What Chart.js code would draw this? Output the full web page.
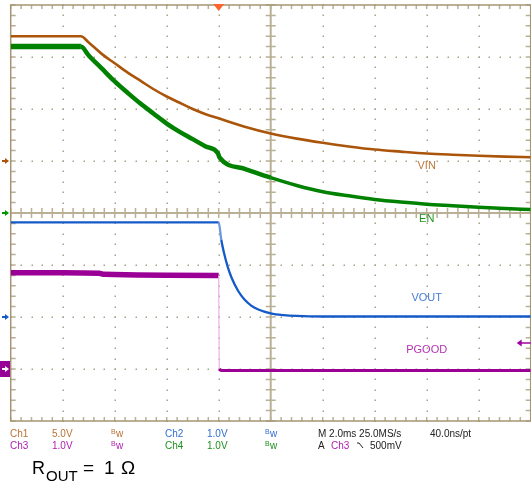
<!DOCTYPE html>
<html>
<head>
<meta charset="utf-8">
<script src="https://cdn.jsdelivr.net/npm/chart.js@4"></script>
<style>
  body { margin: 0; background: #fff; }
  canvas { display: block; }
</style>
</head>
<body>
<canvas id="scope" width="531" height="484"></canvas>
<script>
// time in ms relative to the trigger (2 ms/div), values in volts
const vinTime  = [-8, -5.3, -5.0, -4.5, -4.0, -3.5, -3.0, -2.5, -2.0, -1.5, -1.0, -0.5, 0, 1, 2, 3, 4, 5, 6, 7, 8, 9, 10, 11, 12];
const vinVolts = [12.0, 12.0, 11.4, 10.3, 9.4, 8.5, 7.7, 6.9, 6.2, 5.6, 5.0, 4.5, 4.1, 3.3, 2.65, 2.15, 1.75, 1.4, 1.1, 0.9, 0.72, 0.6, 0.5, 0.42, 0.36];

const enTime  = [-8, -5.3, -5.0, -4.5, -4.0, -3.5, -3.0, -2.5, -2.0, -1.5, -1.0, -0.5, -0.03, 0.03, 1, 2, 3, 4, 5, 6, 7, 8, 9, 10, 11, 12];
const enVolts = [3.2, 3.2, 3.03, 2.78, 2.53, 2.31, 2.1, 1.91, 1.72, 1.56, 1.42, 1.28, 1.15, 1.07, 0.85, 0.68, 0.53, 0.41, 0.33, 0.26, 0.21, 0.17, 0.14, 0.11, 0.085, 0.065];

const voutTime  = [-8, -4, 0, 0.1, 0.2, 0.35, 0.5, 0.75, 1.0, 1.25, 1.5, 2.0, 2.5, 3.0, 4.0, 12];
const voutVolts = [1.82, 1.82, 1.82, 1.48, 1.24, 0.96, 0.75, 0.5, 0.33, 0.22, 0.15, 0.07, 0.035, 0.02, 0.01, 0.01];

const pgoodTime  = [-8, -6, -4.6, -4.4, -0.05, 0, 0.02, 0.15, 12];
const pgoodVolts = [1.85, 1.85, 1.84, 1.82, 1.80, 1.80, 0.0, -0.03, -0.03];

// scope channel settings: volts per division, ground marker in divisions
const ch1 = { scale: 5, ground: 1 };   // VIN
const ch2 = { scale: 1, ground: -2 };  // VOUT
const ch3 = { scale: 1, ground: -3 };  // PGOOD
const ch4 = { scale: 1, ground: 0 };   // EN

const toDiv = (t, v, ch) => t.map((x, i) => ({ x: x, y: ch.ground + v[i] / ch.scale }));

const gridColor = 'rgb(185, 176, 150)';
const frameColor = 'rgb(165, 150, 115)';

// oscilloscope graticule
const graticule = {
  id: 'graticule',
  beforeDatasetsDraw(chart) {
    const { ctx, chartArea: a, scales: { x, y } } = chart;
    ctx.save();
    ctx.fillStyle = 'rgb(170, 162, 135)';
    // dotted division lines
    for (let t = -6; t <= 10; t += 2) {
      if (t === 2) continue;
      const px = Math.round(x.getPixelForValue(t));
      for (let d = -4; d <= 4.001; d += 0.2) {
        ctx.fillRect(px - 0.5, Math.round(y.getPixelForValue(d)) - 0.5, 1.5, 1.5);
      }
    }
    for (let d = -3; d <= 3; d++) {
      if (d === 0) continue;
      const py = Math.round(y.getPixelForValue(d));
      for (let t = -8; t <= 12.001; t += 0.4) {
        ctx.fillRect(Math.round(x.getPixelForValue(t)) - 0.5, py - 0.5, 1.5, 1.5);
      }
    }
    // centre cross
    const cx = x.getPixelForValue(2), cy = y.getPixelForValue(0);
    ctx.strokeStyle = gridColor;
    ctx.lineWidth = 2;
    ctx.beginPath();
    ctx.moveTo(a.left, cy); ctx.lineTo(a.right, cy);
    ctx.moveTo(cx, a.top); ctx.lineTo(cx, a.bottom);
    ctx.stroke();
    ctx.lineWidth = 1.5;
    ctx.beginPath();
    for (let t = -8; t <= 12.001; t += 0.4) {
      const px = x.getPixelForValue(t);
      ctx.moveTo(px, cy - 5); ctx.lineTo(px, cy + 5);
      ctx.moveTo(px, a.top); ctx.lineTo(px, a.top + 4);
      ctx.moveTo(px, a.bottom); ctx.lineTo(px, a.bottom - 4);
    }
    for (let d = -4; d <= 4.001; d += 0.2) {
      const py = y.getPixelForValue(d);
      ctx.moveTo(cx - 5, py); ctx.lineTo(cx + 5, py);
      ctx.moveTo(a.left, py); ctx.lineTo(a.left + 5, py);
      ctx.moveTo(a.right, py); ctx.lineTo(a.right - 5, py);
    }
    ctx.stroke();
    // frame
    ctx.strokeStyle = frameColor;
    ctx.lineWidth = 1.5;
    ctx.strokeRect(a.left, a.top, a.right - a.left, a.bottom - a.top);
    ctx.restore();
  },
  afterDraw(chart) {
    const { ctx, chartArea: a, scales: { x, y } } = chart;
    ctx.save();
    // trigger position marker
    const tx = x.getPixelForValue(0);
    ctx.fillStyle = 'rgb(255, 100, 45)';
    ctx.beginPath();
    ctx.moveTo(tx - 5.5, a.top - 1); ctx.lineTo(tx + 5.5, a.top - 1); ctx.lineTo(tx, a.top + 6);
    ctx.closePath(); ctx.fill();

    // ground markers on the left
    const arrow = (py, color) => {
      ctx.fillStyle = color; ctx.strokeStyle = color; ctx.lineWidth = 2;
      ctx.beginPath(); ctx.moveTo(2, py); ctx.lineTo(6, py); ctx.stroke();
      ctx.beginPath(); ctx.moveTo(5, py - 3); ctx.lineTo(9, py); ctx.lineTo(5, py + 3); ctx.closePath(); ctx.fill();
    };
    arrow(y.getPixelForValue(ch1.ground), 'rgb(170, 85, 10)');
    arrow(y.getPixelForValue(ch4.ground), 'rgb(0, 150, 0)');
    arrow(y.getPixelForValue(ch2.ground), 'rgb(20, 90, 200)');
    const g3 = y.getPixelForValue(ch3.ground);
    ctx.fillStyle = 'rgb(150, 0, 150)';
    ctx.fillRect(0, g3 - 8, 10, 16);
    arrow(g3, '#fff');

    // trigger level marker (500 mV on Ch3)
    const ty = y.getPixelForValue(ch3.ground + 0.5);
    ctx.strokeStyle = 'rgb(160, 0, 160)'; ctx.fillStyle = 'rgb(160, 0, 160)'; ctx.lineWidth = 1.5;
    ctx.beginPath(); ctx.moveTo(a.right, ty); ctx.lineTo(a.right - 10, ty); ctx.stroke();
    ctx.beginPath(); ctx.moveTo(a.right - 14, ty); ctx.lineTo(a.right - 9, ty - 3.5); ctx.lineTo(a.right - 9, ty + 3.5); ctx.closePath(); ctx.fill();

    // trace labels
    ctx.font = '11px "Liberation Sans", Arial, sans-serif';
    ctx.textAlign = 'center'; ctx.textBaseline = 'middle';
    const lx = x.getPixelForValue(8);
    ctx.fillStyle = 'rgb(190, 120, 60)'; ctx.fillText('VIN', lx, y.getPixelForValue(0.9));
    ctx.fillStyle = 'rgb(30, 150, 30)'; ctx.fillText('EN', lx, y.getPixelForValue(-0.11));
    ctx.fillStyle = 'rgb(70, 125, 215)'; ctx.fillText('VOUT', lx, y.getPixelForValue(-1.63));
    ctx.fillStyle = 'rgb(180, 50, 180)'; ctx.fillText('PGOOD', lx, y.getPixelForValue(-2.63));

    // readout below the graticule
    ctx.textAlign = 'left';
    ctx.font = '10px "Liberation Sans", Arial, sans-serif';
    const brown = 'rgb(185, 115, 55)', blue = 'rgb(50, 110, 210)', purple = 'rgb(175, 30, 175)', green = 'rgb(30, 145, 30)';
    const txt = (s, px, py, c) => { ctx.fillStyle = c; ctx.fillText(s, px, py); };
    const bw = (px, py, c) => {
      ctx.fillStyle = c;
      ctx.font = '7px "Liberation Sans", Arial, sans-serif';
      ctx.fillText('B', px, py - 1.5);
      ctx.font = '10px "Liberation Sans", Arial, sans-serif';
      ctx.fillText('w', px + 5, py + 0.5);
    };
    const r1 = 434, r2 = 446;
    txt('Ch1', 10, r1, brown); txt('5.0V', 52, r1, brown); bw(111, r1, brown);
    txt('Ch2', 165, r1, blue); txt('1.0V', 207, r1, blue); bw(265, r1, blue);
    txt('M 2.0ms 25.0MS/s', 318, r1, '#222'); txt('40.0ns/pt', 430, r1, '#222');
    txt('Ch3', 10, r2, purple); txt('1.0V', 52, r2, purple); bw(111, r2, purple);
    txt('Ch4', 165, r2, green); txt('1.0V', 207, r2, green); bw(265, r2, green);
    txt('A', 318, r2, '#222'); txt('Ch3', 331, r2, purple); txt('500mV', 370, r2, '#222');
    ctx.strokeStyle = '#222'; ctx.lineWidth = 1;
    ctx.beginPath(); ctx.moveTo(357, r2 - 3); ctx.lineTo(359, r2 - 3); ctx.lineTo(363, r2 + 2); ctx.stroke();

    // load annotation
    ctx.fillStyle = '#000';
    ctx.textBaseline = 'alphabetic';
    ctx.font = '18px "Liberation Sans", Arial, sans-serif';
    ctx.fillText('R', 32, 474);
    ctx.font = '15px "Liberation Sans", Arial, sans-serif';
    ctx.fillText('OUT', 46, 481);
    ctx.font = '19px "Liberation Sans", Arial, sans-serif';
    ctx.fillText('=', 83, 474);
    ctx.fillText('1', 104, 474);
    ctx.fillText('\u03A9', 121, 474);
    ctx.restore();
  }
};

new Chart(document.getElementById('scope'), {
  type: 'line',
  data: {
    datasets: [
      {
        label: 'VIN',
        data: toDiv(vinTime, vinVolts, ch1),
        borderColor: 'rgb(170, 85, 10)',
        borderWidth: 2.6
      },
      {
        label: 'EN',
        data: toDiv(enTime, enVolts, ch4),
        borderColor: 'rgb(0, 130, 0)',
        borderWidth: 3,
        segment: { borderWidth: ctx => (ctx.p1.parsed.x <= -5.3 ? 5.5 : ctx.p1.parsed.x <= 2 ? 4.5 : 3.5) }
      },
      {
        label: 'VOUT',
        data: toDiv(voutTime, voutVolts, ch2),
        borderColor: 'rgb(20, 90, 200)',
        borderWidth: 2.3,
        segment: { borderColor: ctx => (ctx.p1.parsed.x > 0 && ctx.p1.parsed.x <= 0.1 ? 'rgb(110, 150, 225)' : undefined) }
      },
      {
        label: 'PGOOD',
        data: toDiv(pgoodTime, pgoodVolts, ch3),
        borderColor: 'rgb(155, 0, 150)',
        borderWidth: 3,
        segment: {
          borderWidth: ctx => (ctx.p1.parsed.x <= 0 ? 5.5 : ctx.p1.parsed.x <= 0.02 ? 1.2 : 3),
          borderColor: ctx => (ctx.p1.parsed.x > 0 && ctx.p1.parsed.x <= 0.02 ? 'rgb(235, 175, 235)' : undefined)
        }
      }
    ]
  },
  options: {
    responsive: false,
    animation: false,
    layout: { padding: { left: 10.7, right: 0.3, top: 5, bottom: 63 } },
    elements: { point: { radius: 0 }, line: { cubicInterpolationMode: 'monotone' } },
    plugins: { legend: { display: false }, tooltip: { enabled: false } },
    scales: {
      x: { type: 'linear', min: -8, max: 12, display: false },
      y: { type: 'linear', min: -4, max: 4, display: false }
    }
  },
  plugins: [graticule]
});
</script>
</body>
</html>
